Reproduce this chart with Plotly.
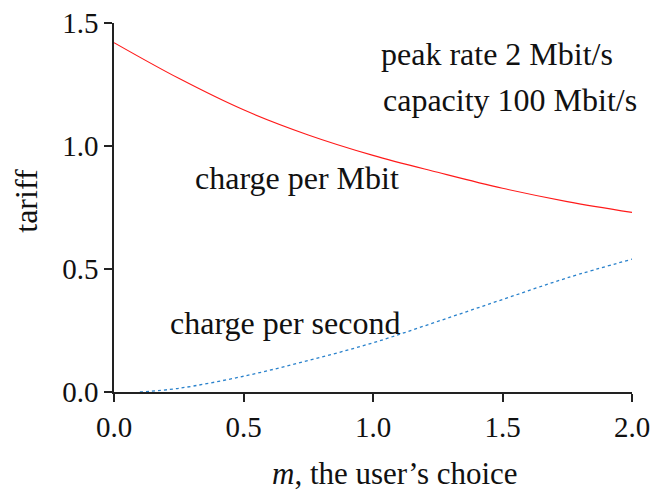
import plotly.graph_objects as go

# Tariff curves as a function of m, the user's choice
m_mbit = [0.0, 0.25, 0.5, 0.75, 1.0, 1.25, 1.5, 1.75, 2.0]
tariff_mbit = [1.42, 1.275, 1.147, 1.045, 0.962, 0.893, 0.828, 0.774, 0.73]

m_second = [0.1, 0.25, 0.5, 0.75, 1.0, 1.25, 1.5, 1.75, 2.0]
tariff_second = [0.0, 0.015, 0.064, 0.128, 0.2, 0.287, 0.376, 0.464, 0.54]

x_ticks = [0.0, 0.5, 1.0, 1.5, 2.0]
y_ticks = [0.0, 0.5, 1.0, 1.5]

FONT = "Liberation Serif"
TICK_FS = 29
TEXT_FS = 32

fig = go.Figure()
fig.add_trace(go.Scatter(
    x=m_mbit, y=tariff_mbit, mode="lines",
    line=dict(color="#ff1a1a", width=1.1, shape="spline"),
    hoverinfo="skip", showlegend=False,
))
fig.add_trace(go.Scatter(
    x=m_second, y=tariff_second, mode="lines",
    line=dict(color="#2a82cc", width=1.3, shape="spline", dash="3px,3px"),
    hoverinfo="skip", showlegend=False,
))

labels = [
    ("peak rate 2 Mbit/s", 1.025, 1.375),
    ("capacity 100 Mbit/s", 1.029, 1.185),
    ("charge per Mbit", 0.305, 0.869),
    ("charge per second", 0.21, 0.279),
]
for text, x, y in labels:
    fig.add_annotation(x=x, y=y, xref="x", yref="y", text=text,
                       showarrow=False, xanchor="left", yanchor="middle",
                       font=dict(family=FONT, size=TEXT_FS, color="#111111"))

# axis titles
fig.add_annotation(x=0.542, y=-0.2735, xref="paper", yref="paper",
                   text="<i>m</i>, the user’s choice", showarrow=False,
                   xanchor="center", yanchor="bottom",
                   font=dict(family=FONT, size=TEXT_FS - 1, color="#111111"))
fig.add_annotation(x=-0.169, y=0.5195, xref="paper", yref="paper",
                   text="tariff", textangle=-90, showarrow=False,
                   xanchor="center", yanchor="middle",
                   font=dict(family=FONT, size=TEXT_FS, color="#111111"))

axis_common = dict(
    showgrid=False, zeroline=False, showline=True, linecolor="#222222",
    linewidth=1.5, ticks="outside", ticklen=8, tickwidth=1.5,
    tickcolor="#222222",
    tickfont=dict(family=FONT, size=TICK_FS, color="#111111"),
    mirror=False, automargin=False,
)
fig.update_xaxes(range=[0, 2], tickvals=x_ticks,
                 ticktext=[f"{v:.1f}" for v in x_ticks], **axis_common)
fig.update_yaxes(range=[0, 1.5], tickvals=y_ticks,
                 ticktext=[f"{v:.1f}" for v in y_ticks], **axis_common)

fig.update_layout(
    width=654, height=495,
    margin=dict(l=114, r=22, t=23, b=103, autoexpand=False),
    paper_bgcolor="white", plot_bgcolor="white",
)

fig.write_html("out.html")
